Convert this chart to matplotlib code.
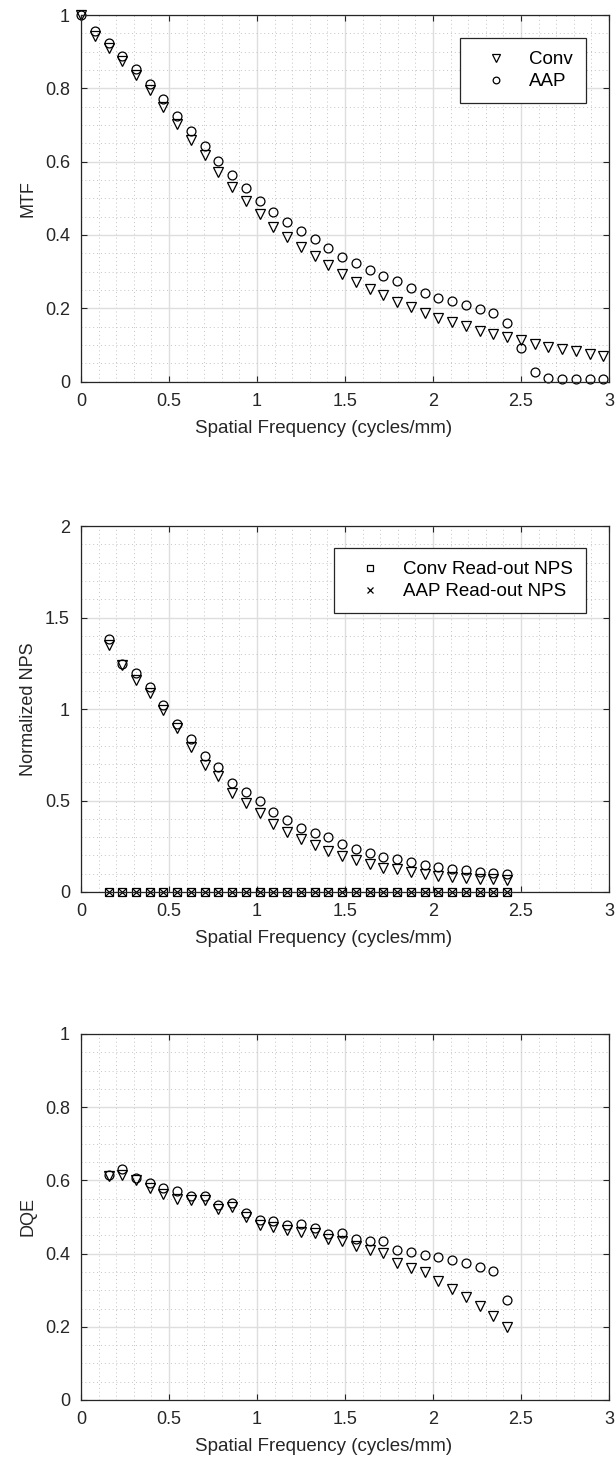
import numpy as np
import matplotlib.pyplot as plt
from matplotlib.ticker import MultipleLocator

plt.rcParams['font.family'] = ['Liberation Sans', 'DejaVu Sans']

# frequency step of the sampled curves (cycles/mm)
df_step = 0.078125
freq_mtf = np.arange(39) * df_step
freq_nps = np.arange(2, 32) * df_step

mtf_conv = [1.000, 0.943, 0.911, 0.875, 0.836, 0.795, 0.748, 0.703, 0.658, 0.618,
            0.572, 0.532, 0.493, 0.457, 0.422, 0.394, 0.367, 0.342, 0.317, 0.292,
            0.271, 0.252, 0.236, 0.218, 0.202, 0.186, 0.173, 0.162, 0.151, 0.139,
            0.129, 0.121, 0.113, 0.102, 0.095, 0.089, 0.082, 0.075, 0.070]
mtf_aap = [1.000, 0.956, 0.923, 0.888, 0.853, 0.813, 0.770, 0.725, 0.683, 0.643,
           0.603, 0.564, 0.529, 0.493, 0.462, 0.434, 0.410, 0.388, 0.363, 0.341,
           0.322, 0.304, 0.288, 0.273, 0.256, 0.241, 0.229, 0.221, 0.209, 0.199,
           0.186, 0.160, 0.091, 0.027, 0.010, 0.006, 0.007, 0.007, 0.006]

nps_conv = [1.350, 1.242, 1.159, 1.088, 0.996, 0.897, 0.794, 0.694, 0.634, 0.539,
            0.484, 0.433, 0.371, 0.329, 0.287, 0.256, 0.225, 0.198, 0.173, 0.155,
            0.133, 0.124, 0.110, 0.097, 0.088, 0.082, 0.079, 0.073, 0.070, 0.068]
nps_aap = [1.381, 1.247, 1.199, 1.118, 1.022, 0.916, 0.836, 0.744, 0.683, 0.593,
           0.547, 0.498, 0.438, 0.396, 0.350, 0.320, 0.298, 0.263, 0.237, 0.214,
           0.192, 0.179, 0.164, 0.148, 0.137, 0.128, 0.119, 0.112, 0.106, 0.101]
readout_conv = [0.001] * 30
readout_aap = [0.001] * 30

dqe_conv = [0.612, 0.614, 0.602, 0.580, 0.563, 0.549, 0.546, 0.547, 0.522, 0.527,
            0.500, 0.478, 0.473, 0.464, 0.459, 0.455, 0.440, 0.435, 0.421, 0.410,
            0.402, 0.373, 0.360, 0.349, 0.325, 0.302, 0.282, 0.257, 0.230, 0.199]
dqe_aap = [0.615, 0.632, 0.606, 0.592, 0.580, 0.571, 0.557, 0.557, 0.534, 0.537,
           0.512, 0.491, 0.489, 0.478, 0.480, 0.471, 0.453, 0.455, 0.441, 0.435,
           0.435, 0.411, 0.405, 0.397, 0.391, 0.382, 0.375, 0.364, 0.353, 0.272]

dark = '#262626'
fs = 13

fig = plt.figure(figsize=(6.16, 14.62), dpi=100)
W, H = 616.0, 1462.0
ax_left, ax_right = 81, 609
panels = [(15, 381.5), (526, 892), (1034, 1400)]
axes = []
for top, bot in panels:
    ax = fig.add_axes([ax_left / W, 1 - bot / H, (ax_right - ax_left) / W, (bot - top) / H])
    axes.append(ax)


def style(ax, ymax, ystep, yminor):
    ax.set_xlim(0, 3)
    ax.set_ylim(0, ymax)
    ax.xaxis.set_major_locator(MultipleLocator(0.5))
    ax.xaxis.set_minor_locator(MultipleLocator(0.1))
    ax.yaxis.set_major_locator(MultipleLocator(ystep))
    ax.yaxis.set_minor_locator(MultipleLocator(yminor))
    ax.grid(True, which='major', color='#dedede', linewidth=1.0, linestyle='-')
    ax.grid(True, which='minor', color='#c4c4c4', linewidth=0.7, linestyle=(0, (1, 3)))
    ax.set_axisbelow(True)
    ax.tick_params(which='major', direction='in', length=4.5, width=0.8, colors=dark,
                   top=True, right=True, labelsize=fs, pad=8)
    ax.tick_params(which='minor', length=0, top=True, right=True)
    for sp in ax.spines.values():
        sp.set_color(dark)
        sp.set_linewidth(0.9)
    ax.xaxis.set_major_formatter(plt.FuncFormatter(lambda v, p: f'{v:g}'))
    ax.yaxis.set_major_formatter(plt.FuncFormatter(lambda v, p: f'{v:g}'))
    ax.set_xlabel('Spatial Frequency (cycles/mm)', fontsize=fs + 0.5, color=dark, labelpad=5)
    ax.xaxis.set_label_coords(0.459, -0.105)


mk = dict(linestyle='none', markerfacecolor='none', markeredgecolor='black',
          markeredgewidth=0.9, clip_on=False)
tri = dict(marker='v', markersize=7.4, **mk)
circ = dict(marker='o', markersize=6.4, **mk)

leg_kw = dict(loc='upper right', fontsize=fs + 0.5, frameon=True, fancybox=False,
              edgecolor=dark, framealpha=1, borderaxespad=0, borderpad=0.7,
              handlelength=2.5, handletextpad=0.5, labelspacing=0.25, markerscale=0.75)

# MTF
ax = axes[0]
style(ax, 1, 0.2, 0.05)
ax.plot(freq_mtf, mtf_conv, label='Conv', **tri)
ax.plot(freq_mtf, mtf_aap, label='AAP', **circ)
ax.set_ylabel('MTF', fontsize=fs, color=dark, labelpad=6)
lg = ax.legend(bbox_to_anchor=((586 - 81) / 528, (381.5 - 38) / 366.5), **leg_kw)
lg.get_frame().set_linewidth(0.9)

# NPS
ax = axes[1]
style(ax, 2, 0.5, 0.1)
ax.plot(freq_nps, nps_conv, label='_nolegend_', **tri)
ax.plot(freq_nps, nps_aap, label='_nolegend_', **circ)
ax.plot(freq_nps, readout_conv, marker='s', markersize=5.4,
        label='Conv Read-out NPS', **mk)
ax.plot(freq_nps, readout_aap, marker='x', markersize=5.6,
        label='AAP Read-out NPS', **mk)
ax.set_ylabel('Normalized NPS', fontsize=fs, color=dark, labelpad=6)
lg = ax.legend(bbox_to_anchor=((586 - 81) / 528, (892 - 548) / 366), **leg_kw)
lg.get_frame().set_linewidth(0.9)

# DQE
ax = axes[2]
style(ax, 1, 0.2, 0.05)
ax.plot(freq_nps, dqe_conv, **tri)
ax.plot(freq_nps, dqe_aap, **circ)
ax.set_ylabel('DQE', fontsize=fs, color=dark, labelpad=6)

fig.savefig('out.png', dpi=100)
